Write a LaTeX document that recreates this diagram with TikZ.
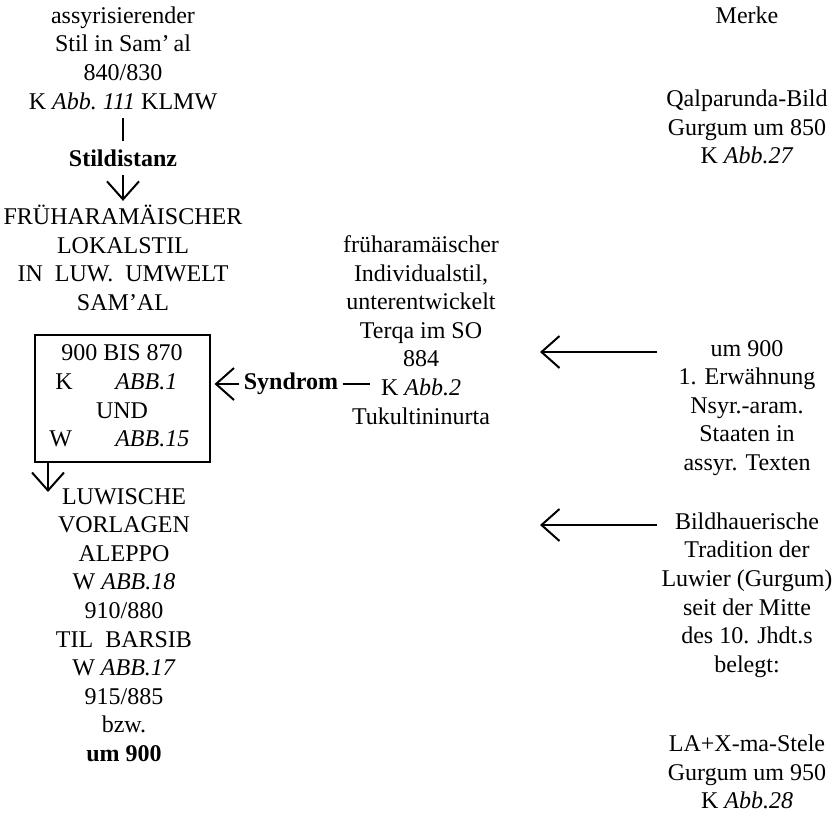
\documentclass[tikz,border=0pt]{standalone}
\usepackage{fontspec}
\setmainfont{Liberation Serif}
\usetikzlibrary{arrows.meta}

\begin{document}
\begin{tikzpicture}[x=0.5pt, y=-0.5pt,
  every node/.style={align=center, inner sep=2pt, font=\fontsize{12}{14.3}\selectfont},
  pfeil/.style={-{Straight Barb[length=9pt,width=16pt,line width=1pt]}, line width=1pt},
  strich/.style={line width=1pt}]
  \useasboundingbox (0,0) rectangle (836,815);

  % linke Spalte
  \node (assyr) at (123,58) {assyrisierender\\Stil in Sam'\,al\\840/830\\K \textit{Abb.\ 111} KLMW};
  \node[font=\fontsize{12}{14.3}\selectfont\bfseries] (distanz) at (123,158) {Stildistanz};
  \node (lokal) at (123,258) {FRÜHARAMÄISCHER\\LOKALSTIL\\IN\ \ LUW.\ \ UMWELT\\SAM'AL};
  \node[draw, line width=1pt, minimum width=87.5pt, minimum height=63.5pt] (box) at (122,398)
    {\begin{tabular}{@{}p{33pt}@{}l@{}}
      \multicolumn{2}{c}{900 BIS 870}\\
      \hspace{3pt}K & \textit{ABB.1}\\
      \multicolumn{2}{c}{UND}\\
      W & \textit{ABB.15}
    \end{tabular}};
  \node (luw) at (124,625) {LUWISCHE\\VORLAGEN\\ALEPPO\\W \textit{ABB.18}\\910/880\\TIL\ \ BARSIB\\W \textit{ABB.17}\\915/885\\bzw.\\\textbf{um 900}};
  \coordinate (knick) at (48,492);

  \draw[strich, shorten <=2pt, shorten >=2pt] (assyr) -- (distanz);
  \draw[pfeil, shorten <=2pt] (distanz) -- (lokal);
  \draw[pfeil] (box.south west -| knick) -- (knick);

  % mittlere Spalte
  \node (frueh) at (421,330) {früharamäischer\\Individualstil,\\unterentwickelt\\Terqa im SO\\884\\K \textit{Abb.2}\\Tukultininurta};
  \node[font=\fontsize{12}{14.3}\selectfont\bfseries] (syn) at (291,384) {Syndrom};
  \coordinate (strichende) at (370,384);
  \draw[pfeil, shorten >=2pt] (syn.west) -- (syn.west -| box.east);
  \draw[strich] (syn.east) -- (strichende);

  % rechte Spalte
  \node (merke) at (747,15) {Merke};
  \node (qalp) at (747,127) {Qalparunda-Bild\\Gurgum um 850\\K \textit{Abb.27}};
  \node (um900) at (747,408) {um 900\\1. Erwähnung\\Nsyr.-aram.\\Staaten in\\assyr. Texten};
  \node (bild) at (747,595) {Bildhauerische\\Tradition der\\Luwier (Gurgum)\\seit der Mitte\\des 10. Jhdt.s\\belegt:};
  \node (stele) at (747,772) {LA+X-ma-Stele\\Gurgum um 950\\K \textit{Abb.28}};
  \coordinate (ziel1) at (540,352);
  \coordinate (ziel2) at (540,525);

  \draw[pfeil] (ziel1 -| bild.west) -- (ziel1);
  \draw[pfeil] (ziel2 -| bild.west) -- (ziel2);
\end{tikzpicture}
\end{document}
